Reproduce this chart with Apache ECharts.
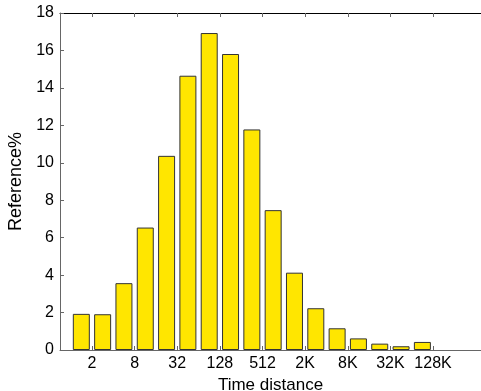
<!DOCTYPE html>
<html>
<head>
<meta charset="utf-8">
<script src="https://cdn.jsdelivr.net/npm/echarts@6/dist/echarts.min.js"></script>
<style>
  html, body { margin: 0; padding: 0; background: #fff; }
  #chart { width: 481px; height: 391px; }
</style>
</head>
<body>
<div id="chart"></div>
<script>
// share of references per time-distance bin (log2 bins)
const refPercent = [1.93, 1.91, 3.57, 6.54, 10.37, 14.65, 16.93, 15.81, 11.78, 7.47, 4.13, 2.23, 1.16, 0.62, 0.34, 0.2, 0.43]
const tickLabels = ['2', '8', '32', '128', '512', '2K', '8K', '32K', '128K']
const yTicks = [0, 2, 4, 6, 8, 10, 12, 14, 16, 18]

// bars sit at 1..N, labels sit between every pair of bars
const barData = refPercent.map((v, i) => [i + 1, v])
const tickPos = tickLabels.map((_, k) => 1.5 + 2 * k)

const font = "'Liberation Sans', Arial, Helvetica, sans-serif"

const myChart = echarts.init(document.getElementById('chart'))

myChart.setOption({
  animation: false,
  grid: { left: 60, right: 0, top: 13, bottom: 41, containLabel: false, outerBoundsMode: 'none' },
  xAxis: [{
    type: 'value',
    min: 0,
    max: 19.75,
    name: 'Time distance',
    nameLocation: 'middle',
    nameGap: 22,
    nameTextStyle: { color: '#000', fontSize: 17, fontFamily: font },
    axisLine: { show: true, lineStyle: { color: '#666', width: 1 } },
    axisTick: { show: true, inside: true, length: 4, customValues: tickPos, lineStyle: { color: '#666' } },
    axisLabel: {
      customValues: tickPos,
      color: '#000',
      fontSize: 16,
      fontFamily: font,
      margin: 6,
      formatter: (val) => tickLabels[Math.round((val - 1.5) / 2)]
    },
    splitLine: { show: false }
  }, {
    type: 'value',
    position: 'top',
    min: 0,
    max: 19.75,
    axisLine: { show: true, onZero: false, lineStyle: { color: '#000', width: 1 } },
    axisTick: { show: true, inside: true, length: 4, customValues: tickPos, lineStyle: { color: '#666' } },
    axisLabel: { show: false },
    splitLine: { show: false }
  }],
  yAxis: {
    type: 'value',
    min: 0,
    max: 18,
    interval: 2,
    name: 'Reference%',
    nameLocation: 'middle',
    nameGap: 29,
    nameTextStyle: { color: '#000', fontSize: 18, fontFamily: font },
    axisLine: { show: true, lineStyle: { color: '#666', width: 1 } },
    axisTick: { show: true, inside: true, length: 4, lineStyle: { color: '#666' } },
    axisLabel: {
      color: '#000',
      fontSize: 16,
      fontFamily: font,
      margin: 6,
      formatter: (val) => yTicks.indexOf(val) >= 0 ? String(val) : ''
    },
    splitLine: { show: false }
  },
  series: [{
    type: 'bar',
    xAxisIndex: 0,
    data: barData,
    barWidth: 17,
    itemStyle: { color: '#ffe600', borderColor: '#333', borderWidth: 1 }
  }]
})
</script>
</body>
</html>
